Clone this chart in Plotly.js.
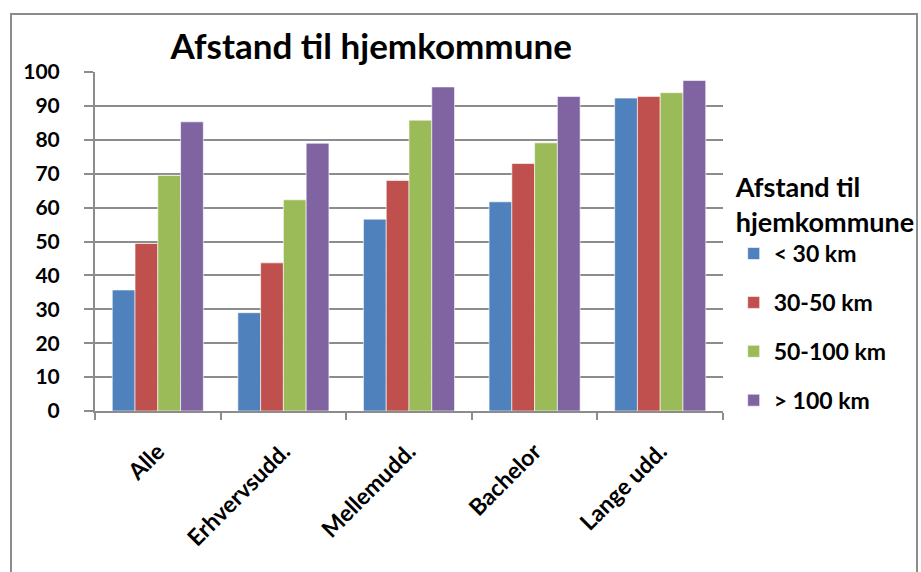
<!DOCTYPE html>
<html>
<head>
<meta charset="utf-8">
<script src="https://cdn.plot.ly/plotly-3.0.1.min.js"></script>
<style>
  html, body { margin: 0; padding: 0; background: #fff; overflow: hidden; }
  #frame { position: absolute; left: 10px; top: 13px; width: 908px; height: 580px; border: 2px solid #8c8c8c; box-sizing: border-box; }
  #chart { position: absolute; left: 0; top: 0; width: 921px; height: 572px; }
</style>
</head>
<body>
<div id="frame"></div>
<div id="chart"></div>
<script>
const categories = ["Alle", "Erhvervsudd.", "Mellemudd.", "Bachelor", "Lange udd."];
const seriesNames = ["< 30 km", "30-50 km", "50-100 km", "> 100 km"];
const under30 = [35.7, 29.0, 56.6, 61.7, 92.3];
const from30to50 = [49.4, 43.7, 68.0, 73.0, 92.8];
const from50to100 = [69.5, 62.3, 85.8, 79.1, 93.9];
const over100 = [85.3, 79.0, 95.6, 92.8, 97.5];
const colors = ["#4f81bd", "#c0504d", "#9bbb59", "#8064a2"];

const values = [under30, from30to50, from50to100, over100];
const FONT = "Lato, 'Open Sans', sans-serif";

const data = values.map((v, i) => ({
  type: "bar",
  name: seriesNames[i],
  x: categories,
  y: v,
  legendgroup: "g" + i,
  marker: { color: colors[i], line: { color: "rgba(255,255,255,0.6)", width: 1 } },
  hoverinfo: "x+y+name"
}));

const layout = {
  width: 921,
  height: 572,
  paper_bgcolor: "rgba(0,0,0,0)",
  plot_bgcolor: "rgba(0,0,0,0)",
  margin: { l: 95, r: 198, t: 72, b: 161, autoexpand: false },
  font: { family: FONT, color: "#000" },
  title: {
    text: "<b>Afstand til hjemkommune</b>",
    font: { family: FONT, size: 35, color: "#000" },
    x: 0.403, xanchor: "center",
    y: 0.918, yanchor: "middle"
  },
  barmode: "group",
  bargap: 0.275,
  bargroupgap: 0,
  xaxis: {
    tickangle: -45,
    tickfont: { family: FONT, size: 23, color: "#000", weight: "bold" },
    showline: true, linecolor: "#8c8c8c", linewidth: 2,
    ticks: "outside", ticklen: 7, tickcolor: "#8c8c8c", tickwidth: 2,
    tickson: "boundaries",
    ticklabelstandoff: 16,
    showgrid: false,
    zeroline: false,
    automargin: false
  },
  yaxis: {
    range: [0, 100],
    dtick: 10,
    tickfont: { family: FONT, size: 21, color: "#000", weight: "bold" },
    showline: true, linecolor: "#8c8c8c", linewidth: 2,
    ticks: "outside", ticklen: 9, tickcolor: "#8c8c8c", tickwidth: 2,
    ticklabelstandoff: 20,
    showgrid: true, gridcolor: "#8c8c8c", gridwidth: 2,
    zeroline: false,
    automargin: false
  },
  legend: {
    x: 1.017, xanchor: "left",
    y: 0.735, yanchor: "top",
    title: { text: "<b>Afstand til<br>hjemkommune</b>", font: { family: FONT, size: 27, color: "#000" } },
    font: { family: FONT, size: 23, color: "#000", weight: "bold" },
    tracegroupgap: 16,
    itemwidth: 30,
    bgcolor: "rgba(0,0,0,0)"
  },
  showlegend: true
};

Plotly.newPlot("chart", data, layout, { displayModeBar: false, staticPlot: true });
</script>
</body>
</html>
